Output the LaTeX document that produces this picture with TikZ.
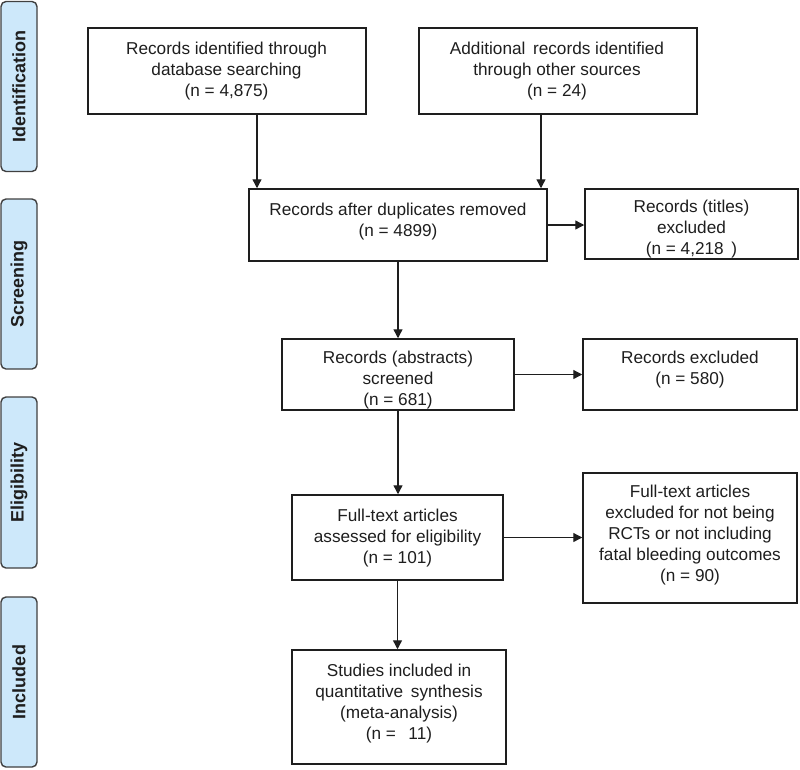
\documentclass[tikz,border=0pt]{standalone}
\usepackage{fontspec}
\setmainfont{Liberation Sans}
\usetikzlibrary{arrows.meta}
\definecolor{phasefill}{HTML}{CDE8FA}
\definecolor{inkc}{HTML}{1E1E1E}
\begin{document}
\begin{tikzpicture}[x=1pt,y=-1pt,
  boxframe/.style={draw=inkc, line width=1.5pt, rectangle, inner sep=0pt},
  boxtext/.style={align=center, inner sep=0pt, text=inkc, font=\fontsize{17.2}{21}\selectfont},
  phase/.style={draw=black!75, line width=1.4pt, fill=phasefill, rounded corners=5pt,
    minimum height=36pt, inner sep=0pt, rotate=90, text=inkc,
    font=\bfseries\fontsize{18}{20}\selectfont},
  arr/.style={draw=inkc, line width=1.3pt, -{Triangle[length=9pt,width=9pt]}}]
\useasboundingbox (0,0) rectangle (800,769);

% phase labels
\node[phase, minimum width=170pt] (pid) at (19,86.5) {Identification};
\node[phase, minimum width=170pt] (psc) at (19,284) {Screening};
\node[phase, minimum width=171pt] (pel) at (19,482.5) {Eligibility};
\node[phase, minimum width=170pt] (pin) at (19,682) {Included};

% box frames
\node[boxframe, minimum width=278pt, minimum height=86pt] (b1) at (227,71) {};
\node[boxframe, minimum width=278pt, minimum height=86pt] (b2) at (558,71) {};
\node[boxframe, minimum width=298pt, minimum height=72pt] (b3) at (398,225) {};
\node[boxframe, minimum width=213pt, minimum height=70pt] (b4) at (691.5,224) {};
\node[boxframe, minimum width=232pt, minimum height=71pt] (b5) at (398,374.5) {};
\node[boxframe, minimum width=214pt, minimum height=71pt] (b6) at (690,374.5) {};
\node[boxframe, minimum width=211pt, minimum height=85pt] (b7) at (397.5,537.5) {};
\node[boxframe, minimum width=214pt, minimum height=130pt] (b8) at (690,538) {};
\node[boxframe, minimum width=214pt, minimum height=114pt] (b9) at (399,707) {};

% box texts
\node[boxtext] (t1) at (226.5,71) {Records identified through\\database searching\\(n = 4,875)};
\node[boxtext] (t2) at (557,71) {Additional\, records identified\\through other sources\\(n = 24)};
\node[boxtext] (t3) at (398,222) {Records after duplicates removed\\(n = 4899)};
\node[boxtext] (t4) at (691.5,229) {Records (titles)\\excluded\\(n = 4,218\, )};
\node[boxtext] (t5) at (398,380) {Records (abstracts)\\screened\\(n = 681)};
\node[boxtext] (t6) at (690,370) {Records excluded\\(n = 580)};
\node[boxtext] (t7) at (397.5,538) {Full-text articles\\assessed for eligibility\\(n = 101)};
\node[boxtext] (t8) at (690,535) {Full-text articles\\excluded for not being\\RCTs or not including\\fatal bleeding outcomes\\(n = 90)};
\node[boxtext] (t9) at (399,704) {Studies included in\\quantitative\, synthesis\\(meta-analysis)\\(n = \, 11)};

% connectors
\draw[arr] ([xshift=30pt]b1.south) -- ([xshift=30pt]b1.south |- b3.north);
\draw[arr] ([xshift=-17pt]b2.south) -- ([xshift=-17pt]b2.south |- b3.north);
\draw[arr] (b3.east) -- (b3.east -| b4.west);
\draw[arr] (b3.south) -- (b3.south |- b5.north);
\draw[arr] (b5.east) -- (b5.east -| b6.west);
\draw[arr] (b5.south) -- (b5.south |- b7.north);
\draw[arr] (b7.east) -- (b7.east -| b8.west);
\draw[arr] (b7.south) -- (b7.south |- b9.north);
\end{tikzpicture}
\end{document}
